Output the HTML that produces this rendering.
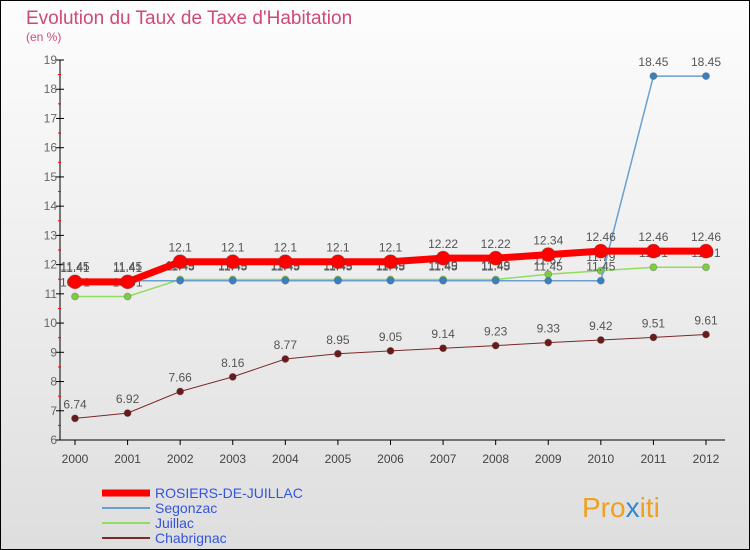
<!DOCTYPE html>
<html><head><meta charset="utf-8"><style>
body{margin:0}
svg{display:block;font-family:"Liberation Sans",sans-serif}
</style></head><body>
<svg id="c" width="750" height="550">
<defs><linearGradient id="bg" x1="0" y1="0" x2="0" y2="1"><stop offset="0" stop-color="#fdfdfd"/><stop offset="1" stop-color="#dedede"/></linearGradient></defs>
<rect x="0.5" y="0.5" width="749" height="549" fill="url(#bg)" stroke="#000"/>
<text x="26" y="24" font-size="19" fill="#d0487a">Evolution du Taux de Taxe d'Habitation</text>
<text x="26" y="41" font-size="12" fill="#d0487a">(en %)</text>
<g id="axes"></g><g id="series"></g>
<g>
<line x1="102" y1="493" x2="150" y2="493" stroke="#f00" stroke-width="7"/>
<text x="155" y="498" font-size="14" fill="#3355dd">ROSIERS-DE-JUILLAC</text>
<line x1="102" y1="508" x2="150" y2="508" stroke="#6a9fd0" stroke-width="2"/>
<text x="155" y="513" font-size="14" fill="#3355dd">Segonzac</text>
<line x1="102" y1="523" x2="150" y2="523" stroke="#90dd60" stroke-width="2"/>
<text x="155" y="528" font-size="14" fill="#3355dd">Juillac</text>
<line x1="102" y1="538" x2="150" y2="538" stroke="#7a2a2a" stroke-width="2"/>
<text x="155" y="543" font-size="14" fill="#3355dd">Chabrignac</text>
</g>
<text x="582" y="517" font-size="28" fill="#f0a020">Pro<tspan fill="#3388cc">x</tspan>iti</text>
</svg>
<script>
const years=[2000,2001,2002,2003,2004,2005,2006,2007,2008,2009,2010,2011,2012];
const yTicks=[6,7,8,9,10,11,12,13,14,15,16,17,18,19];
const rosiers=[11.41,11.41,12.1,12.1,12.1,12.1,12.1,12.22,12.22,12.34,12.46,12.46,12.46];
const segonzac=[11.45,11.45,11.45,11.45,11.45,11.45,11.45,11.45,11.45,11.45,11.45,18.45,18.45];
const juillac=[10.91,10.91,11.49,11.49,11.49,11.49,11.49,11.49,11.49,11.67,11.79,11.91,11.91];
const chabrignac=[6.74,6.92,7.66,8.16,8.77,8.95,9.05,9.14,9.23,9.33,9.42,9.51,9.61];
const NS='http://www.w3.org/2000/svg';
const X=i=>75+i*(706-75)/12, Y=v=>440-(v-6)*(380/13);
function mk(t,a,p){const e=document.createElementNS(NS,t);for(const k in a)e.setAttribute(k,a[k]);p.appendChild(e);return e;}
const ax=document.getElementById('axes'), sg=document.getElementById('series');
const yl=mk('line',{x1:60,y1:60,x2:60,y2:440,stroke:'#000'},ax);


const xl=mk('line',{x1:60,y1:440,x2:725,y2:440,stroke:'#000'},ax);


yTicks.forEach(v=>{mk('line',{x1:56,y1:Y(v),x2:64,y2:Y(v),stroke:'#000'},ax);
 if(v<19)mk('line',{x1:58,y1:Y(v+0.5),x2:61,y2:Y(v+0.5),stroke:'#f00'},ax);
 const t=mk('text',{x:57,y:Y(v)+4,'font-size':12,fill:'#666','text-anchor':'end'},ax);t.textContent=v;
 
 });
years.forEach((y,i)=>{mk('line',{x1:X(i),y1:440,x2:X(i),y2:445,stroke:'#000'},ax);
 const t=mk('text',{x:X(i),y:463,'font-size':12,fill:'#444','text-anchor':'middle'},ax);t.textContent=y;
 
 });
function series(d,col,w,r,pc,name){
 const p=mk('polyline',{points:d.map((v,i)=>X(i)+','+Y(v)).join(' '),fill:'none',stroke:col,'stroke-width':w},sg);
 
 
 d.forEach((v,i)=>{const c=mk('circle',{cx:X(i),cy:Y(v),r:r,fill:pc,stroke:'#444','stroke-opacity':0.3},sg);
  
  
  const t=mk('text',{x:X(i),y:Y(v)-10,'font-size':12,fill:'#555','text-anchor':'middle'},sg);t.textContent=v;
  
  });
}
series(chabrignac,'#7a2a2a',1,3.5,'#6a1a1a','chabrignac');
series(juillac,'#90dd60',1.5,3.5,'#80cc40','juillac');
series(segonzac,'#6a9fd0',1.5,3.5,'#3a80c0','segonzac');
series(rosiers,'#f00',7,7,'#f00','rosiers');
</script>
</body></html>
